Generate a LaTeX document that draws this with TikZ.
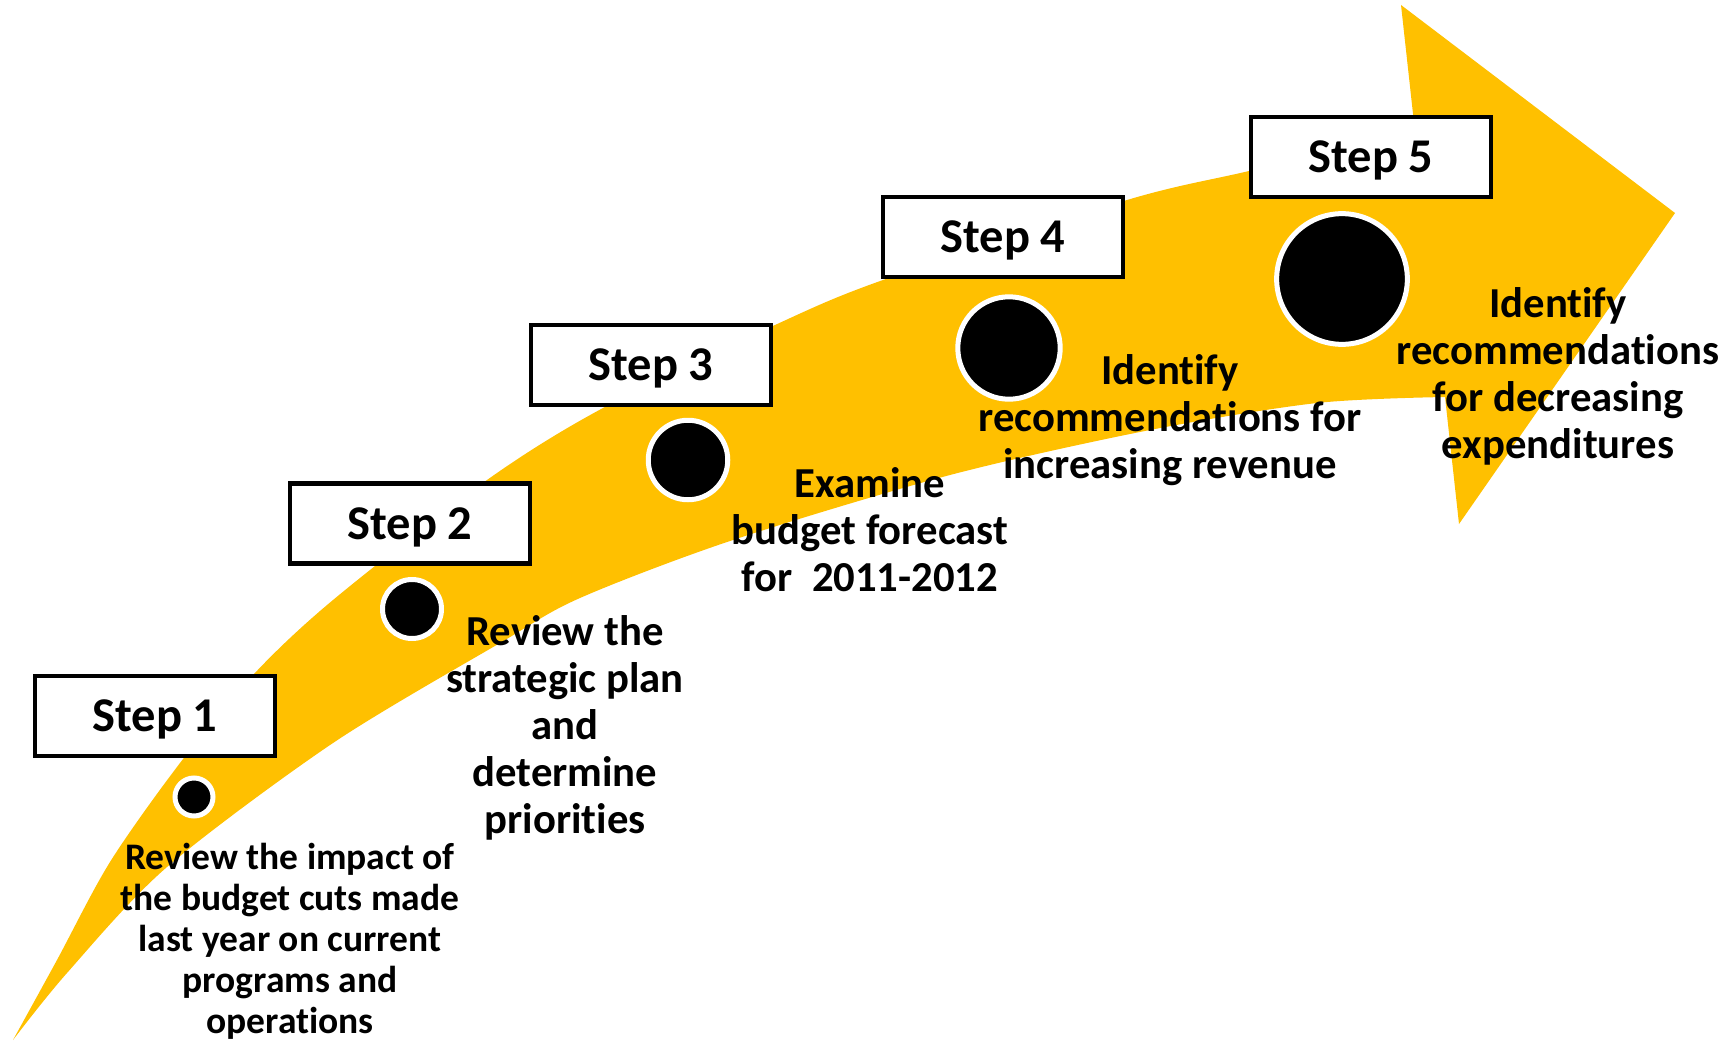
\documentclass[tikz,border=0pt]{standalone}
\usepackage{fontspec}
\setmainfont{Carlito}[Ligatures=NoCommon]
\definecolor{gold}{RGB}{255,192,0}
\tikzset{
  stepbox/.style={draw=black, fill=white, line width=4.3pt, minimum width=240pt, minimum height=80pt,
    inner sep=0pt, font=\bfseries\fontsize{48.5}{58}\selectfont, text height=31pt, text depth=0pt},
  dot/.style={circle, fill=black, draw=white, line width=5pt, inner sep=0pt},
  desc/.style={align=center, font=\bfseries\fontsize{42.7}{47}\selectfont, inner sep=0pt},
  descsmall/.style={align=center, font=\bfseries\fontsize{37.5}{41.1}\selectfont, inner sep=0pt},
  arrowfill/.style={fill=gold},
}
\begin{document}
\begin{tikzpicture}[x=1pt,y=-1pt]
\useasboundingbox (0,0) rectangle (1726,1041);
% curved arrow
\fill[arrowfill] plot[smooth, tension=0.5] coordinates {(13,1040) (57,960) (110,862) (180,763) (253,675) (333,600) (487,480) (603,408) (775,325) (883,280) (1127,200) (1249,171) (1415,132)}
  -- (1401,5) -- (1675,213) -- (1459,524) -- (1445,397)
  -- plot[smooth, tension=0.5] coordinates {(1445,397) (1317,403) (1150,430) (950,475) (733,540) (580,598) (500,643) (333,743) (167,867) (67,973) (13,1040)}
  -- cycle;
% step boxes
\node[stepbox] (s1) at (155,716) {Step 1};
\node[stepbox] (s2) at (410,523.5) {Step 2};
\node[stepbox] (s3) at (651,365) {Step 3};
\node[stepbox] (s4) at (1003,237) {Step 4};
\node[stepbox] (s5) at (1371,157) {Step 5};
% dots
\node[dot, minimum size=38pt] (d1) at (194,797) {};
\node[dot, minimum size=59pt] (d2) at (412,609) {};
\node[dot, minimum size=79.5pt] (d3) at (688,460) {};
\node[dot, minimum size=102.4pt] (d4) at (1009,348) {};
\node[dot, minimum size=130.7pt] (d5) at (1342,279) {};
% descriptions
\node[descsmall] (t1) at (290,941) {Review the impact of\\the budget cuts made\\last year on current\\programs and\\operations};
\node[desc] (t2) at (565,727.5) {Review the\\strategic plan\\and\\determine\\priorities};
\node[desc] (t3) at (870,530) {Examine\\budget forecast\\for\ \ 2011-2012};
\node[desc] (t4) at (1170,420) {Identify\\recommendations for\\increasing revenue};
\node[desc] (t5) at (1558,376) {Identify\\recommendations\\for decreasing\\expenditures};
\end{tikzpicture}
\end{document}
